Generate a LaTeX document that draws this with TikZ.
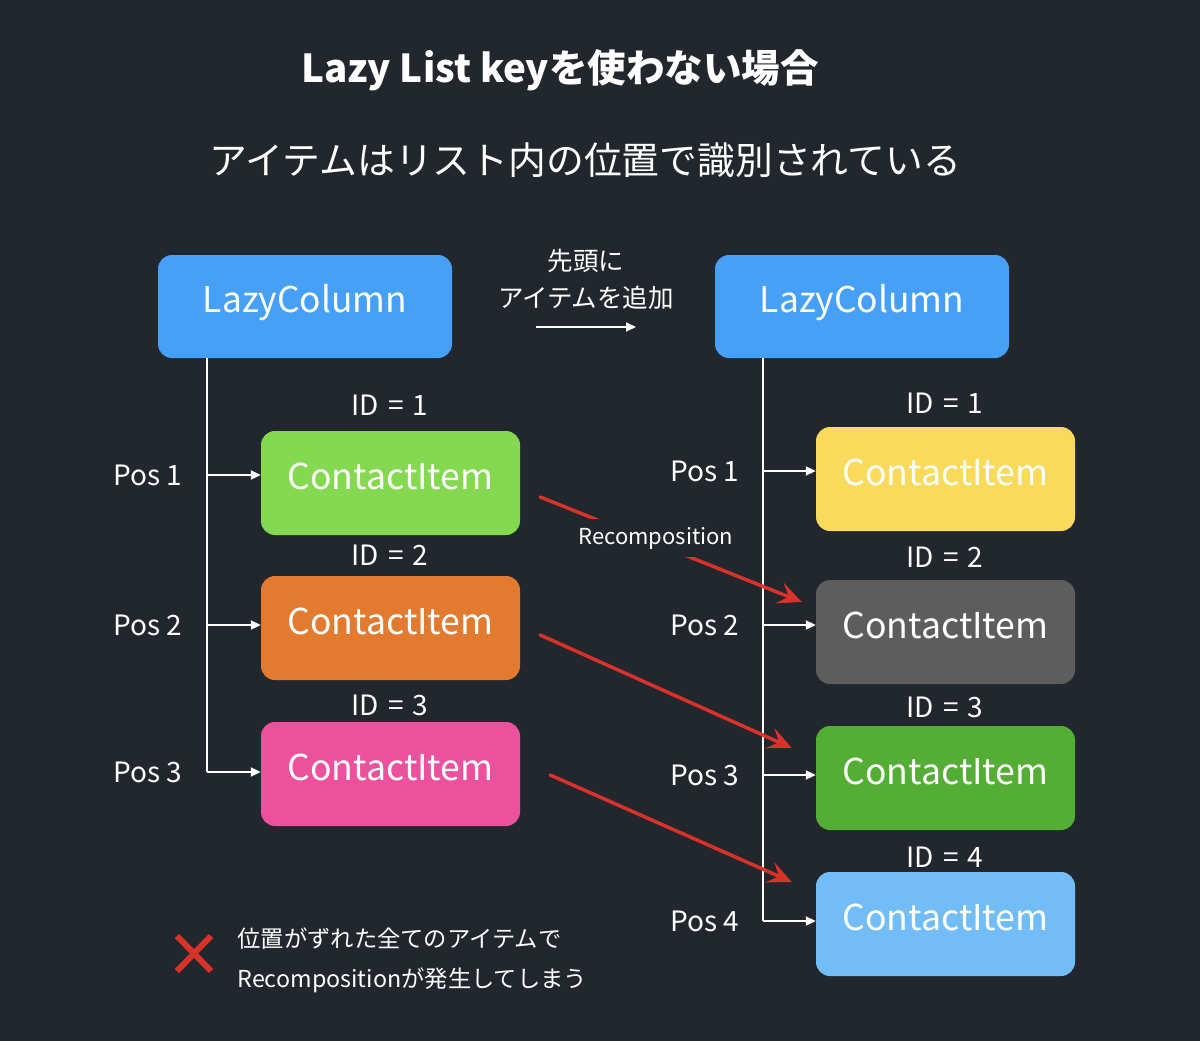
\documentclass[tikz,border=0pt]{standalone}
\usepackage{fontspec}
\setmainfont{Noto Sans CJK JP}
\usetikzlibrary{arrows.meta,calc}
\definecolor{bg}{HTML}{22262D}
\definecolor{colblue}{HTML}{47A0F7}
\definecolor{itgreen}{HTML}{84D951}
\definecolor{itorange}{HTML}{E27A30}
\definecolor{itpink}{HTML}{EC519D}
\definecolor{ityellow}{HTML}{F9DA5A}
\definecolor{itgray}{HTML}{5D5D5D}
\definecolor{itdkgreen}{HTML}{54AD34}
\definecolor{itsky}{HTML}{72BDF7}
\definecolor{redmark}{HTML}{D8322A}
\tikzset{
  colbox/.style={fill=colblue,rounded corners=14pt,minimum width=294pt,minimum height=103pt,text=white,text height=24pt,text depth=13pt,font=\fontsize{35.4}{40}\selectfont},
  itembox/.style={rounded corners=14pt,minimum width=259pt,minimum height=104pt,text=white,text height=26pt,text depth=14pt,font=\fontsize{35.6}{42}\selectfont},
  lbl/.style={text=white,font=\fontsize{28}{32}\selectfont},
  wire/.style={white,line width=2pt},
  tip/.style={wire,-{Triangle[length=10pt,width=9pt]}},
  recomp/.style={redmark,line width=3.5pt,line cap=round,-{Stealth[length=24pt,width=22pt,inset=10pt]}},
}
\newcommand{\eqgap}{\hspace{0.32em}}
\begin{document}
\begin{tikzpicture}[x=1pt,y=-1pt]
\fill[bg] (0,0) rectangle (1200,1041);
\useasboundingbox (0,0) rectangle (1200,1041);
% titles
\node[text=white,font=\bfseries\fontsize{38.5}{42}\selectfont] (title) at (560,70) {Lazy List keyを使わない場合};
\node[text=white,font=\fontsize{37.8}{42}\selectfont] (sub) at (585.5,160) {アイテムはリスト内の位置で識別されている};
% columns
\node[colbox] (lc1) at (305,306.5) {LazyColumn};
\node[colbox] (lc2) at (862,306.5) {LazyColumn};
\coordinate (sp1) at (207,772);
\coordinate (sp2) at (763,921);
\draw[wire] (sp1 |- lc1.south)--(sp1);
\draw[wire] (sp2 |- lc2.south)--(sp2);
% before
\foreach \n/\y/\i/\p/\c in {1/483/405/475/itgreen,2/628/555/625/itorange,3/774/705/772/itpink}{
\node[itembox,fill=\c] (c\n) at (390.5,\y) {ContactItem};
\node[lbl] (idc\n) at (390,\i) {ID\eqgap=\eqgap\n};
\node[lbl] (pc\n) at (148,\p) {Pos \n};
\draw[tip] (sp1 |- pc\n)--(c\n.west |- pc\n);}
% after
\foreach \n/\y/\i/\p/\c in {1/479/403/471/ityellow,2/632/557/625/itgray,3/778/707/775/itdkgreen,4/924/857/921/itsky}{
\node[itembox,fill=\c] (d\n) at (945.5,\y) {ContactItem};
\node[lbl] (idd\n) at (945,\i) {ID\eqgap=\eqgap\n};
\node[lbl] (pd\n) at (705,\p) {Pos \n};
\draw[tip] (sp2 |- pd\n)--(d\n.west |- pd\n);}
% insert
\node[text=white,align=center,font=\fontsize{25.5}{37}\selectfont] (add) at (586,279) {先頭に\\アイテムを追加};
\coordinate (a0) at (536,327);
\coordinate (a1) at (636,327);
\draw[tip] (a0)--(a1);
% recomposition
\draw[recomp] ($(c1.east)+(20,14)$)--($(d2.west)+(-14,-30)$);
\draw[recomp] ($(c2.east)+(20,7)$)--($(d3.west)+(-24,-30)$);
\draw[recomp] ($(c3.east)+(30,1)$)--($(d4.west)+(-24,-42)$);
\node[text=white,fill=bg,inner sep=8pt,font=\fontsize{22}{26}\selectfont] (rc) at (656,538) {Recomposition};
% note
\draw[redmark,line width=6pt] (177,936)--(211,971) (211,936)--(177,971);
\node[text=white,anchor=west,align=left,font=\fontsize{23.3}{40}\selectfont] (note) at (234,960) {位置がずれた全てのアイテムで\\Recompositionが発生してしまう};
\end{tikzpicture}
\end{document}
